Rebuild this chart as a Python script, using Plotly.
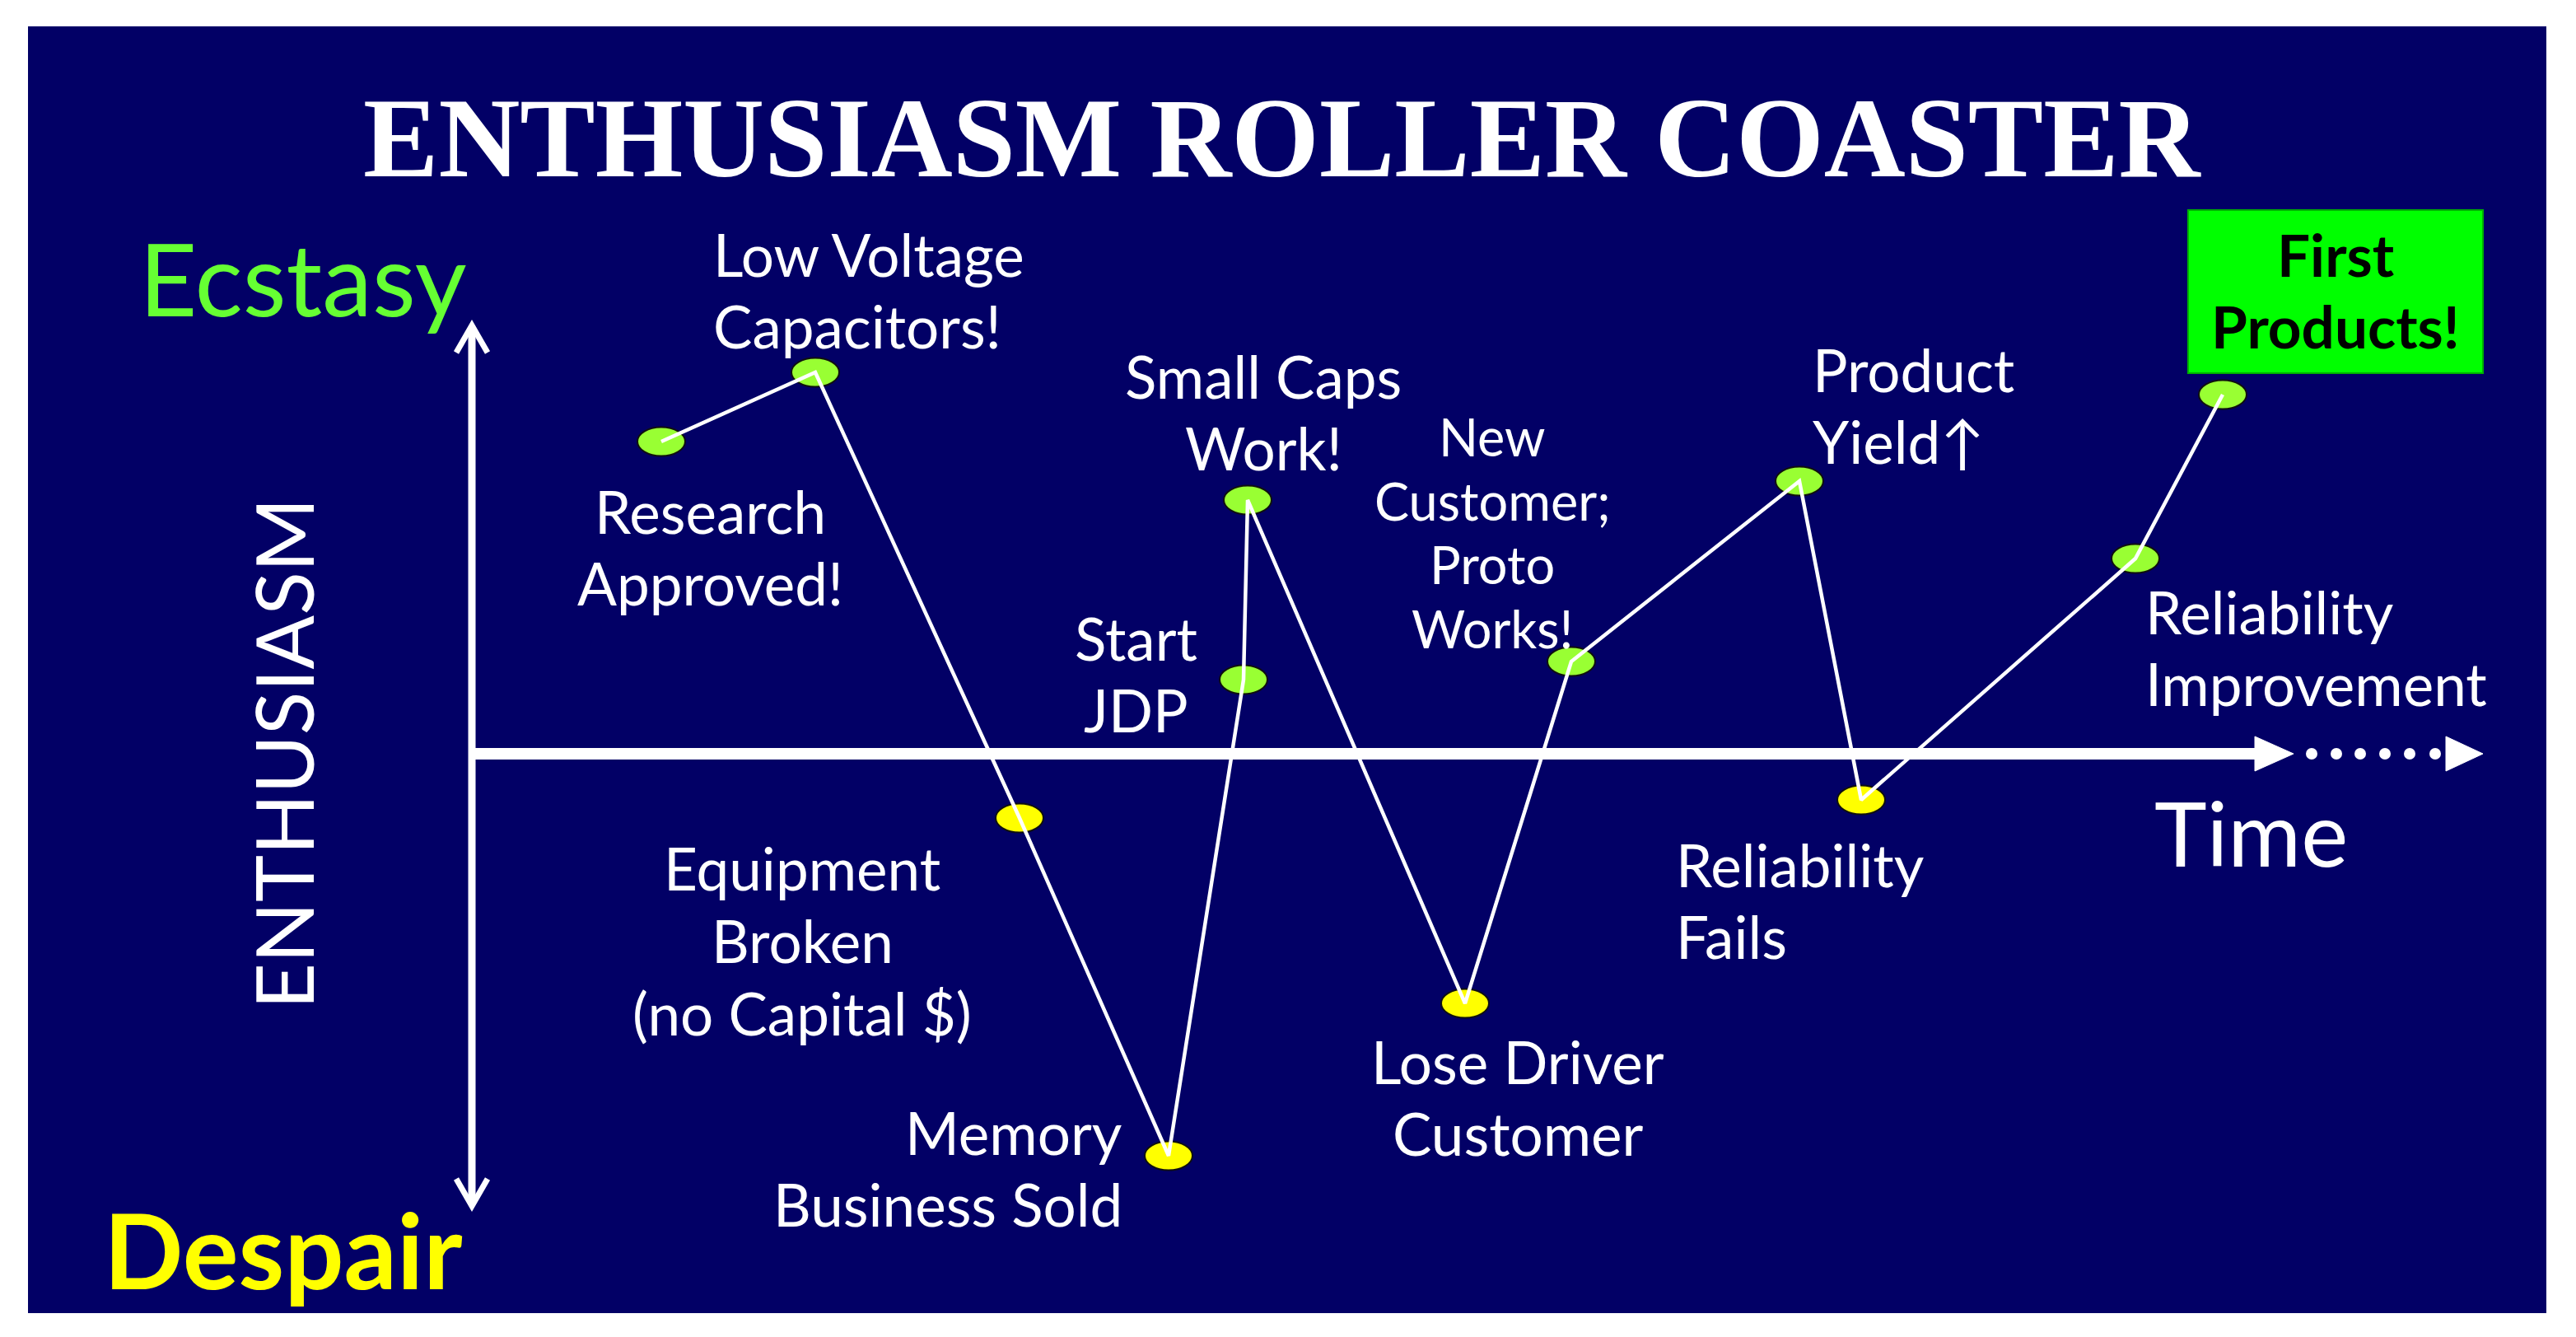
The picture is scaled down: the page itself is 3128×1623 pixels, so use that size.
import plotly.graph_objects as go

# ---------------- data ----------------
events = ["Research Approved!", "Low Voltage Capacitors!", "Equipment Broken (no Capital $)",
          "Memory Business Sold", "Start JDP", "Small Caps Work!", "Lose Driver Customer",
          "New Customer; Proto Works!", "Product Yield↑", "Reliability Fails",
          "Reliability Improvement", "First Products!"]
time_pos = [2.30, 4.17, 6.65, 8.46, 9.37, 9.42, 12.06, 13.35, 16.12, 16.87, 20.20, 21.26]
enthusiasm = [3.79, 4.63, -0.78, -4.88, 0.90, 3.08, -3.03, 1.12, 3.31, -0.56, 2.37, 4.36]
label_lines = [["Research", "Approved!"], ["Low Voltage", "Capacitors!"],
               ["Equipment", "Broken", "(no Capital $)"], ["Memory", "Business Sold"],
               ["Start", "JDP"], ["Small Caps", "Work!"], ["Lose Driver", "Customer"],
               ["New", "Customer;", "Proto", "Works!"], ["Product", "Yield↑"],
               ["Reliability", "Fails"], ["Reliability", "Improvement"], ["First", "Products!"]]

# ---------------- layout constants ----------------
W, H = 3128, 1623
X0, Y0 = 573, 915          # pixel position of the axes origin
UNIT = 100.0               # pixels per unit
XR = [(0 - X0) / UNIT, (W - X0) / UNIT]
YR = [(Y0 - H) / UNIT, Y0 / UNIT]

BG = "#020066"
GREEN_PT = "#99FF33"
YELLOW_PT = "#FFFF00"
FONT = "Lato"


def fx(px):
    return px / W


def fy(py):
    return 1 - py / H


# label placement: (x px, block centre y px, anchor, font size, line spacing px)
label_pos = [
    (862, 664, "center", 71, 87),
    (864, 352, "left", 71, 87),
    (974, 1141, "center", 71, 88),
    (1365, 1418, "right", 71, 87),
    (1379, 818, "center", 71, 87),
    (1534, 500, "center", 71, 87),
    (1843, 1332, "center", 71, 87),
    (1812, 646, "center", 63, 77.5),
    (2199, 492, "left", 71, 87),
    (2033, 1093, "left", 71, 87),
    (2603, 786, "left", 71, 87),
    (2836, 352, "center", 71, 87),
]

fig = go.Figure()

shapes = []
# dark panel
shapes.append(dict(type="rect", xref="paper", yref="paper", x0=fx(34), x1=fx(3092), y0=fy(1594), y1=fy(32),
                   fillcolor=BG, line=dict(width=0), layer="below"))
# First Products box
shapes.append(dict(type="rect", xref="paper", yref="paper", x0=fx(2657), x1=fx(3015), y0=fy(453), y1=fy(255),
                   fillcolor="#00FF00", line=dict(width=2, color="#00B000"), layer="below"))
# vertical axis
shapes.append(dict(type="line", xref="paper", yref="paper", x0=fx(X0), x1=fx(X0), y0=fy(400), y1=fy(1460),
                   line=dict(color="white", width=9), layer="below"))
for tip, wing in [(395, 428), (1464, 1431)]:
    shapes.append(dict(type="path", xref="paper", yref="paper",
                       path=f"M {fx(X0-19)} {fy(wing)} L {fx(X0)} {fy(tip)} L {fx(X0+19)} {fy(wing)}",
                       line=dict(color="white", width=7), layer="below"))
# horizontal axis
shapes.append(dict(type="line", xref="paper", yref="paper", x0=fx(X0 - 4), x1=fx(2742), y0=fy(Y0), y1=fy(Y0),
                   line=dict(color="white", width=14), layer="below"))
for bx, tx in [(2738, 2785), (2970, 3015)]:
    shapes.append(dict(type="path", xref="paper", yref="paper",
                       path=f"M {fx(bx)} {fy(Y0-21)} L {fx(tx)} {fy(Y0)} L {fx(bx)} {fy(Y0+21)} Z",
                       fillcolor="white", line=dict(color="white", width=1), layer="below"))
for dx in [2807, 2837, 2866, 2896, 2926, 2957]:
    shapes.append(dict(type="circle", xref="paper", yref="paper", x0=fx(dx - 7), x1=fx(dx + 7),
                       y0=fy(Y0 + 7), y1=fy(Y0 - 7), fillcolor="white", line=dict(width=0), layer="below"))
# elliptical point markers built from the data
RX, RY = 0.29, 0.175
for t, e in zip(time_pos, enthusiasm):
    shapes.append(dict(type="circle", xref="x", yref="y", x0=t - RX, x1=t + RX, y0=e - RY, y1=e + RY,
                       fillcolor=GREEN_PT if e > 0 else YELLOW_PT,
                       line=dict(color="#101010", width=2), layer="below"))

# connecting roller-coaster line
fig.add_trace(go.Scatter(x=time_pos, y=enthusiasm, mode="lines", text=events,
                         line=dict(color="white", width=4.5), hoverinfo="text", showlegend=False))

annotations = []
for lines, (px, pyc, anchor, sz, sp), ev in zip(label_lines, label_pos, events):
    boxed = ev == "First Products!"
    color = "black" if boxed else "white"
    weight = 700 if boxed else 400
    n = len(lines)
    for i, ln in enumerate(lines):
        py = pyc + (i - (n - 1) / 2) * sp
        annotations.append(dict(x=fx(px), y=fy(py), xref="paper", yref="paper", text=ln, showarrow=False,
                                xanchor=anchor, yanchor="middle",
                                font=dict(family=FONT, size=sz, color=color, weight=weight)))

# title and axis words
annotations.append(dict(x=fx(1557), y=fy(168), xref="paper", yref="paper", text="ENTHUSIASM ROLLER COASTER",
                        showarrow=False, xanchor="center", yanchor="middle",
                        font=dict(family="Liberation Serif", size=137, color="white", weight=700)))
annotations.append(dict(x=fx(167), y=fy(337), xref="paper", yref="paper", text="Ecstasy",
                        showarrow=False, xanchor="left", yanchor="middle",
                        font=dict(family=FONT, size=122, color="#66FF33")))
annotations.append(dict(x=fx(124), y=fy(1516), xref="paper", yref="paper", text="Despair",
                        showarrow=False, xanchor="left", yanchor="middle",
                        font=dict(family=FONT, size=127, color="#FFFF00", weight=700)))
annotations.append(dict(x=fx(343), y=fy(915), xref="paper", yref="paper", text="ENTHUSIASM",
                        showarrow=False, xanchor="center", yanchor="middle", textangle=-90,
                        font=dict(family=FONT, size=97, color="white")))
annotations.append(dict(x=fx(2614), y=fy(1010), xref="paper", yref="paper", text="Time",
                        showarrow=False, xanchor="left", yanchor="middle",
                        font=dict(family=FONT, size=108, color="white")))

fig.update_layout(
    width=W, height=H, autosize=False,
    margin=dict(l=0, r=0, t=0, b=0, pad=0),
    paper_bgcolor="white", plot_bgcolor="white",
    xaxis=dict(range=XR, visible=False, fixedrange=True),
    yaxis=dict(range=YR, visible=False, fixedrange=True),
    shapes=shapes, annotations=annotations,
    hovermode=False,
)

fig.write_html("out.html", config={"displayModeBar": False},
               post_script="document.body.style.margin='0';document.body.style.overflow='hidden';")
